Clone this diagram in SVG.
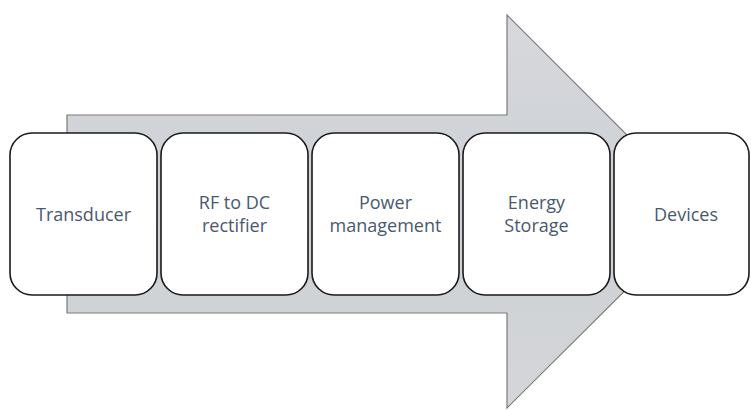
<svg xmlns="http://www.w3.org/2000/svg" width="751" height="410" viewBox="0 0 751 410">
  <defs>
    <linearGradient id="arrowFill" x1="0" y1="0" x2="0" y2="1">
      <stop offset="0" stop-color="#d6d8dc"/>
      <stop offset="0.5" stop-color="#cdd0d4"/>
      <stop offset="1" stop-color="#d4d6d9"/>
    </linearGradient>
    <style>
      .step rect { fill: #ffffff; stroke: #1a1a1a; stroke-width: 1.6; }
      .step text { font-family: "Open Sans", "Liberation Sans", sans-serif; font-size: 18px; fill: #4a586e; text-anchor: middle; }
      .arrow { fill: url(#arrowFill); stroke: #7a7a7a; stroke-width: 1.2; }
    </style>
  </defs>

  <!-- big process arrow in the background -->
  <g id="arrow">
    <path class="arrow" d="M67,115 H507 V15 L704,212 L507,408 V313 H67 Z"/>
  </g>

  <!-- process steps -->
  <g id="transducer" class="step">
    <rect x="10" y="133" width="147" height="162" rx="22"/>
    <text x="83.5" y="221">Transducer</text>
  </g>
  <g id="rectifier" class="step">
    <rect x="161" y="133" width="147" height="162" rx="22"/>
    <text x="234.5" y="209">RF to DC</text>
    <text x="234.5" y="232">rectifier</text>
  </g>
  <g id="power" class="step">
    <rect x="312" y="133" width="147" height="162" rx="22"/>
    <text x="385.5" y="209">Power</text>
    <text x="385.5" y="232">management</text>
  </g>
  <g id="storage" class="step">
    <rect x="463" y="133" width="147" height="162" rx="22"/>
    <text x="536.5" y="209">Energy</text>
    <text x="536.5" y="232">Storage</text>
  </g>
  <g id="devices" class="step">
    <rect x="614" y="133" width="135" height="162" rx="22"/>
    <text x="686" y="221">Devices</text>
  </g>

  <!-- no connectors: the steps sit on the arrow -->
  <g id="connectors"/>
</svg>
